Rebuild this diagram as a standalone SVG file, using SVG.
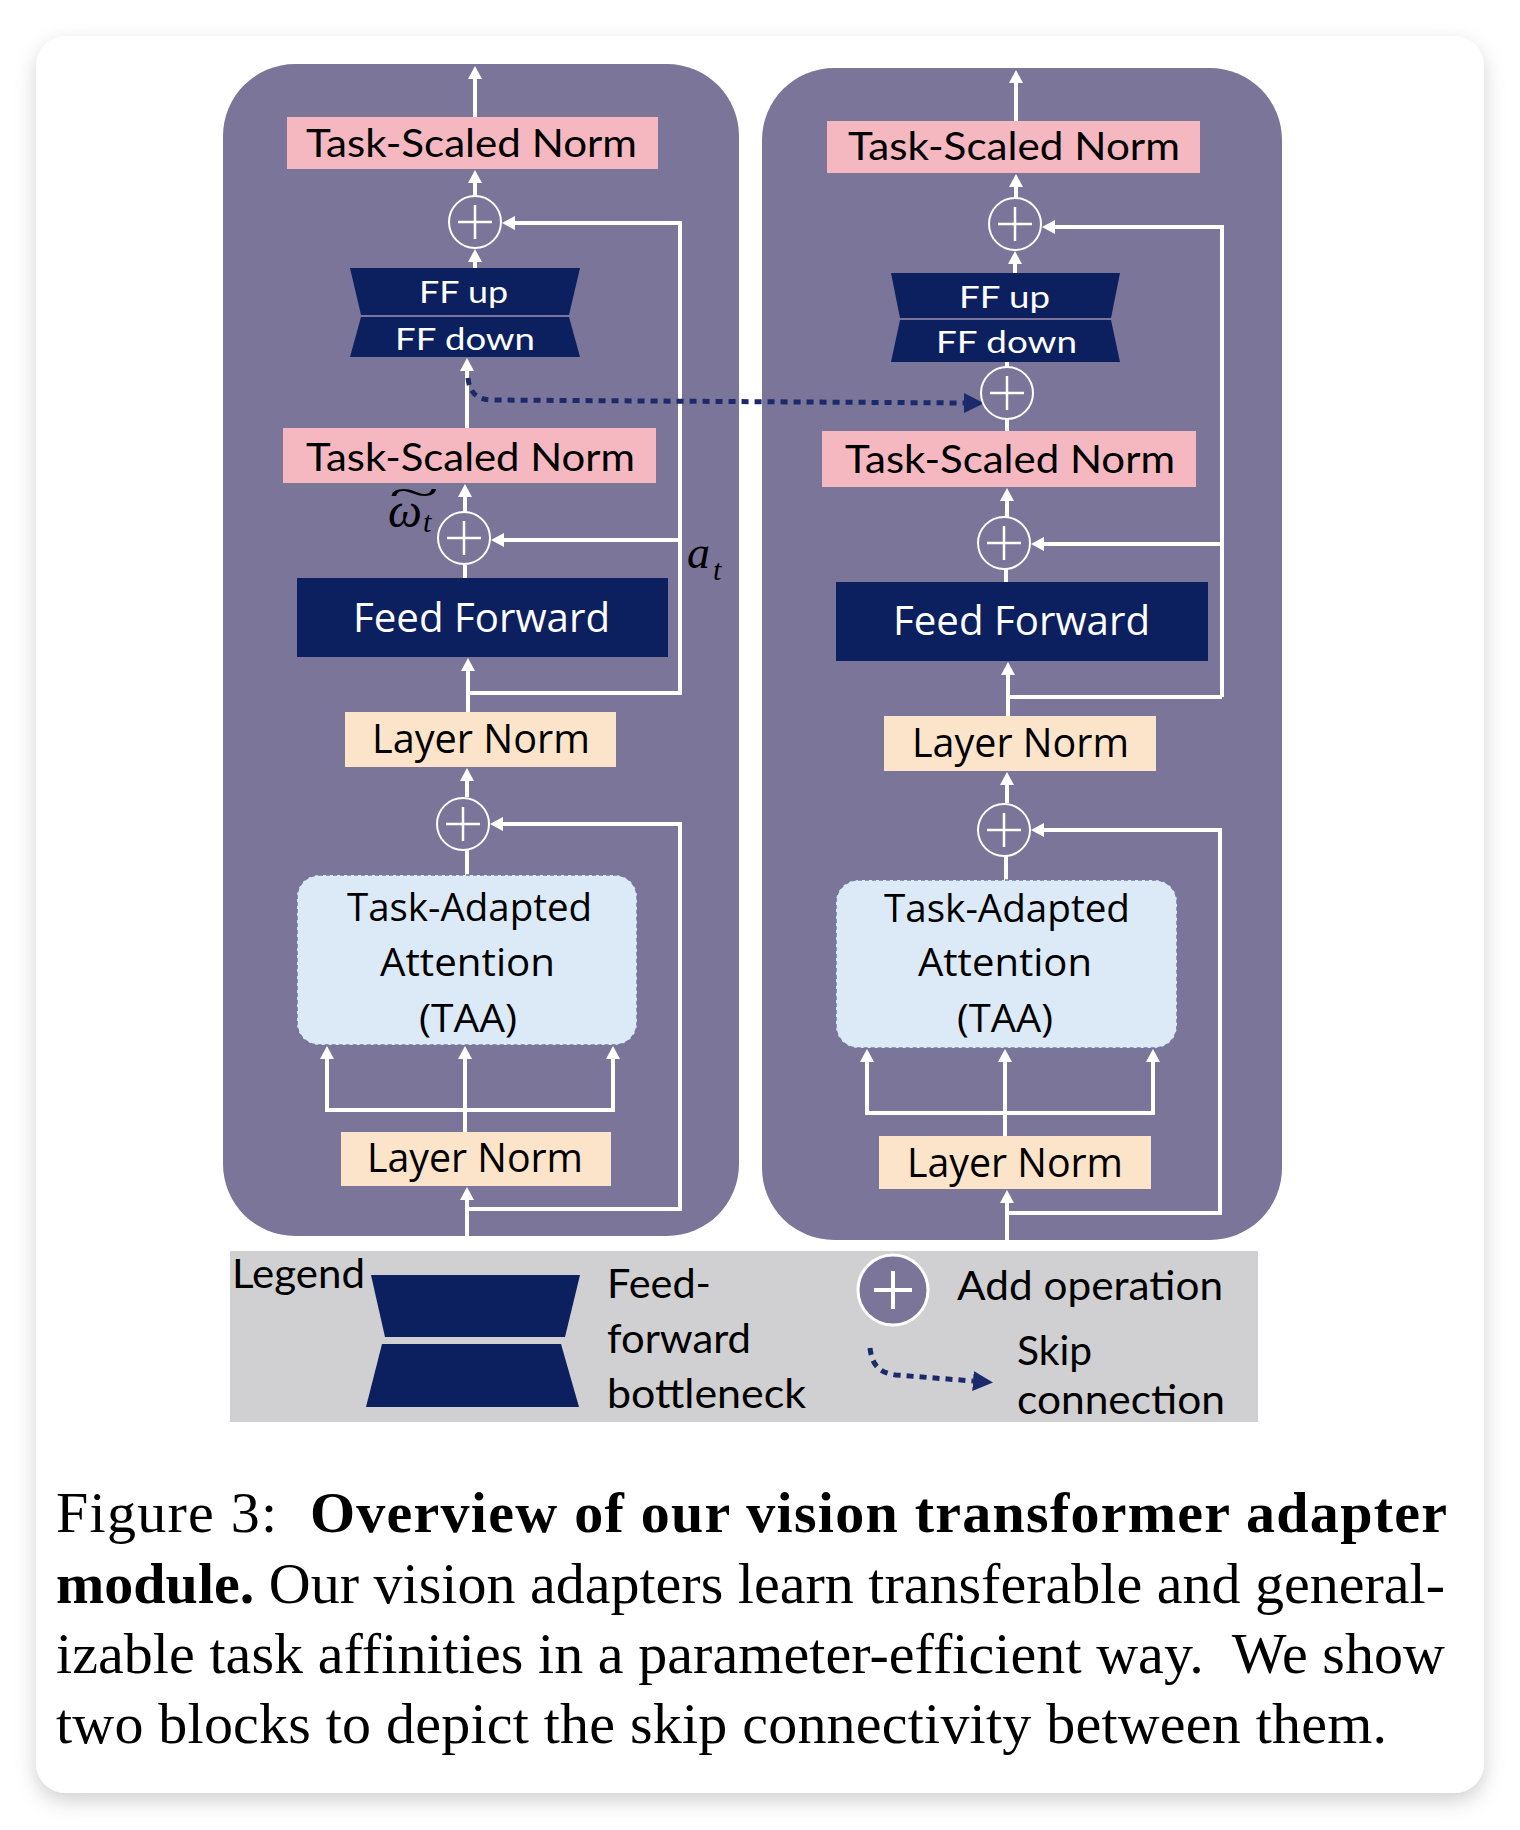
<svg xmlns="http://www.w3.org/2000/svg" width="1520" height="1830" viewBox="0 0 1520 1830">
<defs>
<style>
.blk{fill:#7b7599}
.tsn{fill:#f5b8c0}
.ln{fill:#fce4cb}
.ff{fill:#0c1f5e}
.taa{fill:#dce9f6;stroke:#6f7a96;stroke-width:1.5;stroke-dasharray:4 3}
.add{fill:none;stroke:#ffffff;stroke-width:2}
.addp{stroke:#ffffff;stroke-width:2.5;fill:none}
.conn{fill:none;stroke:#ffffff;stroke-width:4}
.arr{marker-end:url(#wh)}
.skip{fill:none;stroke:#1b2a6a;stroke-width:5;stroke-dasharray:7 6}
.cal{font-family:Lato,"Liberation Sans",sans-serif;fill:#000}
.seg{font-family:"Open Sans","DejaVu Sans",sans-serif;fill:#000}
.wt{fill:#ffffff}
.math{font-family:"Liberation Serif","DejaVu Serif",serif;font-style:italic;fill:#000}
.cap{font-family:"Liberation Serif","Times New Roman",serif;font-size:58px;fill:#000;white-space:pre}
</style>
<marker id="wh" viewBox="0 0 13 14" refX="0" refY="7" markerWidth="13" markerHeight="14" markerUnits="userSpaceOnUse" orient="auto">
<path d="M0,0 L13,7 L0,14 z" fill="#ffffff"/>
</marker>
<marker id="nv" viewBox="0 0 20 20" refX="0" refY="10" markerWidth="20" markerHeight="20" markerUnits="userSpaceOnUse" orient="auto">
<path d="M0,0 L20,10 L0,20 z" fill="#1b2a6a"/>
</marker>
<filter id="sh" x="-5%" y="-5%" width="110%" height="110%">
<feDropShadow dx="0" dy="8" stdDeviation="10" flood-color="#000" flood-opacity="0.18"/>
</filter>
</defs>

<rect x="0" y="0" width="1520" height="1830" fill="#ffffff"/>
<rect id="card" x="36" y="36" width="1448" height="1757" rx="30" fill="#ffffff" filter="url(#sh)"/>

<g id="block-left">
<rect class="blk" x="223" y="64" width="516" height="1172" rx="72"/>
</g>
<g id="block-right">
<rect class="blk" x="762" y="68" width="520" height="1172" rx="72"/>
</g>

<g id="connectors">
<!-- left block -->
<path class="conn arr" d="M475,117 L475,79"/>
<path class="conn arr" d="M475,196 L475,183"/>
<path class="conn arr" d="M475,268 L475,262"/>
<path class="conn arr" d="M467,428 L467,371"/>
<path class="conn arr" d="M465,512 L465,497"/>
<path class="conn arr" d="M680,540 L504,540"/>
<path class="conn" d="M465,578 L465,565"/>
<path class="conn arr" d="M468,712 L468,671"/>
<path class="conn arr" d="M468,693 L680,693 L680,223 L515,223"/>
<path class="conn arr" d="M467,797 L467,781"/>
<path class="conn" d="M467,875 L467,850"/>
<path class="conn arr" d="M467,1209 L680,1209 L680,824 L503,824"/>
<path class="conn" d="M465,1132 L465,1110 M327,1110 L613,1110"/>
<path class="conn arr" d="M327,1112 L327,1059"/>
<path class="conn arr" d="M465,1112 L465,1059"/>
<path class="conn arr" d="M613,1112 L613,1059"/>
<path class="conn arr" d="M467,1248 L467,1200"/>
<!-- right block -->
<path class="conn arr" d="M1016,121 L1016,83"/>
<path class="conn arr" d="M1016,198 L1016,187"/>
<path class="conn arr" d="M1015,273 L1015,264"/>
<path class="conn arr" d="M1222,697 L1222,227 L1055,227"/>
<path class="conn" d="M1007,362 L1007,367 M1007,419 L1007,431"/>
<path class="conn arr" d="M1007,517 L1007,501"/>
<path class="conn arr" d="M1222,544 L1044,544"/>
<path class="conn" d="M1006,582 L1006,569"/>
<path class="conn arr" d="M1008,716 L1008,675"/>
<path class="conn" d="M1008,697 L1222,697"/>
<path class="conn arr" d="M1007,803 L1007,785"/>
<path class="conn" d="M1006,880 L1006,856"/>
<path class="conn arr" d="M1007,1213 L1220,1213 L1220,830 L1044,830"/>
<path class="conn" d="M1005,1136 L1005,1113 M867,1113 L1153,1113"/>
<path class="conn arr" d="M867,1115 L867,1062"/>
<path class="conn arr" d="M1005,1115 L1005,1062"/>
<path class="conn arr" d="M1153,1115 L1153,1062"/>
<path class="conn arr" d="M1007,1248 L1007,1203"/>
<!-- cross-block skip connection -->
<path class="skip" d="M468,378 Q470,400 492,400 L964,403" marker-end="url(#nv)"/>
</g>

<!-- left block nodes -->
<g id="L-tsn-top">
<rect class="tsn" x="287" y="117" width="371" height="52"/>
<text class="cal" x="306" y="157" font-size="38" textLength="331" lengthAdjust="spacingAndGlyphs">Task-Scaled Norm</text>
</g>
<g id="L-add-top">
<circle class="add" cx="475" cy="222" r="26"/>
<path class="addp" d="M458,222 H492 M475,205 V239"/>
</g>
<g id="L-ff-bottleneck">
<polygon class="ff" points="350,268 580,268 569,315 361,315"/>
<polygon class="ff" points="361,317 569,317 580,357 350,357"/>
<text class="cal wt" x="419" y="303" font-size="31" textLength="89" lengthAdjust="spacingAndGlyphs">FF up</text>
<text class="cal wt" x="395" y="350" font-size="31" textLength="140" lengthAdjust="spacingAndGlyphs">FF down</text>
</g>
<g id="L-tsn-mid">
<rect class="tsn" x="283" y="428" width="373" height="55"/>
<text class="cal" x="306" y="471" font-size="38" textLength="329" lengthAdjust="spacingAndGlyphs">Task-Scaled Norm</text>
</g>
<g id="L-add-mid">
<circle class="add" cx="464" cy="538" r="26"/>
<path class="addp" d="M447,538 H481 M464,521 V555"/>
</g>
<g id="L-omega">
<text class="math" x="388" y="527" font-size="48">ω<tspan x="389" y="506" font-size="40" font-style="normal" textLength="50" lengthAdjust="spacingAndGlyphs">~</tspan><tspan x="423" y="532" font-size="30">t</tspan></text>
</g>
<g id="L-at">
<text class="math" x="687" y="568" font-size="46">a<tspan x="713" y="580" font-size="30">t</tspan></text>
</g>
<g id="L-feedforward">
<rect class="ff" x="297" y="578" width="371" height="79"/>
<text class="seg wt" x="353" y="632" font-size="40" textLength="257" lengthAdjust="spacingAndGlyphs">Feed Forward</text>
</g>
<g id="L-ln-mid">
<rect class="ln" x="345" y="712" width="271" height="55"/>
<text class="seg" x="372" y="753" font-size="40" textLength="218" lengthAdjust="spacingAndGlyphs">Layer Norm</text>
</g>
<g id="L-add-low">
<circle class="add" cx="463" cy="824" r="26"/>
<path class="addp" d="M446,824 H480 M463,807 V841"/>
</g>
<g id="L-taa">
<rect class="taa" x="297" y="875" width="340" height="170" rx="22"/>
<text class="seg" x="347" y="921" font-size="39" textLength="245" lengthAdjust="spacingAndGlyphs">Task-Adapted</text>
<text class="seg" x="380" y="976" font-size="39" textLength="175" lengthAdjust="spacingAndGlyphs">Attention</text>
<text class="seg" x="419" y="1032" font-size="39" textLength="98" lengthAdjust="spacingAndGlyphs">(TAA)</text>
</g>
<g id="L-ln-bottom">
<rect class="ln" x="341" y="1132" width="270" height="54"/>
<text class="seg" x="367" y="1172" font-size="40" textLength="216" lengthAdjust="spacingAndGlyphs">Layer Norm</text>
</g>

<!-- right block nodes -->
<g id="R-tsn-top">
<rect class="tsn" x="827" y="121" width="373" height="52"/>
<text class="cal" x="848" y="160" font-size="38" textLength="332" lengthAdjust="spacingAndGlyphs">Task-Scaled Norm</text>
</g>
<g id="R-add-top">
<circle class="add" cx="1015" cy="224" r="26"/>
<path class="addp" d="M998,224 H1032 M1015,207 V241"/>
</g>
<g id="R-ff-bottleneck">
<polygon class="ff" points="891,273 1120,273 1111,318 900,318"/>
<polygon class="ff" points="900,320 1111,320 1120,362 891,362"/>
<text class="cal wt" x="959" y="308" font-size="31" textLength="91" lengthAdjust="spacingAndGlyphs">FF up</text>
<text class="cal wt" x="936" y="353" font-size="31" textLength="141" lengthAdjust="spacingAndGlyphs">FF down</text>
</g>
<g id="R-add-skip">
<circle class="add" cx="1007" cy="393" r="26"/>
<path class="addp" d="M990,393 H1024 M1007,376 V410"/>
</g>
<g id="R-tsn-mid">
<rect class="tsn" x="822" y="431" width="374" height="56"/>
<text class="cal" x="845" y="473" font-size="38" textLength="330" lengthAdjust="spacingAndGlyphs">Task-Scaled Norm</text>
</g>
<g id="R-add-mid">
<circle class="add" cx="1004" cy="543" r="26"/>
<path class="addp" d="M987,543 H1021 M1004,526 V560"/>
</g>
<g id="R-feedforward">
<rect class="ff" x="836" y="582" width="372" height="79"/>
<text class="seg wt" x="893" y="635" font-size="40" textLength="257" lengthAdjust="spacingAndGlyphs">Feed Forward</text>
</g>
<g id="R-ln-mid">
<rect class="ln" x="884" y="716" width="272" height="55"/>
<text class="seg" x="912" y="757" font-size="40" textLength="217" lengthAdjust="spacingAndGlyphs">Layer Norm</text>
</g>
<g id="R-add-low">
<circle class="add" cx="1004" cy="830" r="26"/>
<path class="addp" d="M987,830 H1021 M1004,813 V847"/>
</g>
<g id="R-taa">
<rect class="taa" x="836" y="880" width="341" height="168" rx="22"/>
<text class="seg" x="884" y="922" font-size="39" textLength="246" lengthAdjust="spacingAndGlyphs">Task-Adapted</text>
<text class="seg" x="918" y="976" font-size="39" textLength="174" lengthAdjust="spacingAndGlyphs">Attention</text>
<text class="seg" x="957" y="1032" font-size="39" textLength="96" lengthAdjust="spacingAndGlyphs">(TAA)</text>
</g>
<g id="R-ln-bottom">
<rect class="ln" x="879" y="1136" width="272" height="53"/>
<text class="seg" x="907" y="1177" font-size="40" textLength="216" lengthAdjust="spacingAndGlyphs">Layer Norm</text>
</g>

<!-- legend -->
<g id="legend">
<rect x="230" y="1251" width="1028" height="171" fill="#d0cfd1"/>
<text class="cal" x="232" y="1288" font-size="40" textLength="133" lengthAdjust="spacingAndGlyphs">Legend</text>
<polygon class="ff" points="371,1275 580,1275 565,1337 385,1337"/>
<polygon class="ff" points="382,1344 561,1344 579,1407 366,1407"/>
<text class="cal" x="607" y="1298" font-size="40" textLength="104" lengthAdjust="spacingAndGlyphs">Feed-</text>
<text class="cal" x="607" y="1353" font-size="40" textLength="144" lengthAdjust="spacingAndGlyphs">forward</text>
<text class="cal" x="607" y="1408" font-size="40" textLength="199" lengthAdjust="spacingAndGlyphs">bottleneck</text>
<circle cx="893" cy="1290" r="35" fill="#7b7599" stroke="#ffffff" stroke-width="3"/>
<path d="M874,1290 H912 M893,1271 V1309" stroke="#ffffff" stroke-width="4" fill="none"/>
<text class="cal" x="957" y="1300" font-size="40" textLength="266" lengthAdjust="spacingAndGlyphs">Add operation</text>
<path class="skip" d="M870,1348 C872,1366 880,1373 896,1375 L973,1381" stroke-width="5" marker-end="url(#nv)"/>
<text class="cal" x="1017" y="1365" font-size="40" textLength="75" lengthAdjust="spacingAndGlyphs">Skip</text>
<text class="cal" x="1017" y="1414" font-size="40" textLength="208" lengthAdjust="spacingAndGlyphs">connection</text>
</g>

<!-- caption -->
<g id="caption">
<text class="cap" xml:space="preserve" x="56" y="1532" textLength="1391" lengthAdjust="spacing">Figure 3:  <tspan font-weight="bold">Overview of our vision transformer adapter</tspan></text>
<text class="cap" xml:space="preserve" x="56" y="1603" textLength="1389" lengthAdjust="spacing"><tspan font-weight="bold">module.</tspan> Our vision adapters learn transferable and general-</text>
<text class="cap" xml:space="preserve" x="56" y="1673" textLength="1389" lengthAdjust="spacing">izable task affinities in a parameter-efficient way.  We show</text>
<text class="cap" xml:space="preserve" x="56" y="1743" textLength="1331" lengthAdjust="spacing">two blocks to depict the skip connectivity between them.</text>
</g>
</svg>
